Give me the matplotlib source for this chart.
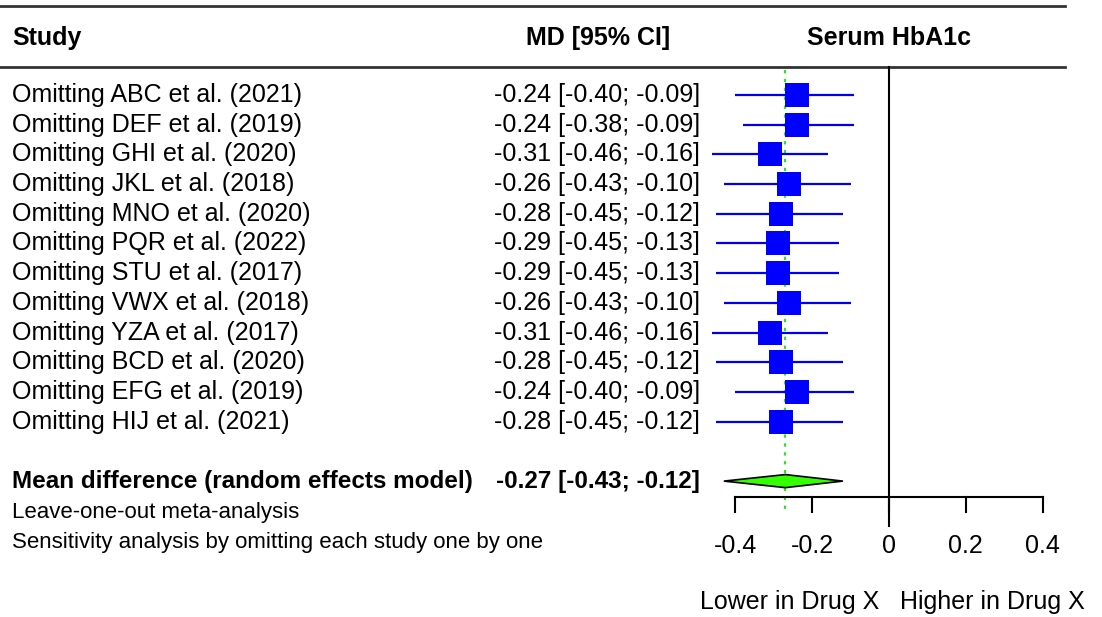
import matplotlib.pyplot as plt
import matplotlib.transforms as mtransforms
import numpy as np

plt.rcParams['font.family'] = ['Liberation Sans', 'DejaVu Sans']

# data
studies = ["ABC", "DEF", "GHI", "JKL", "MNO", "PQR", "STU", "VWX", "YZA", "BCD", "EFG", "HIJ"]
years = [2021, 2019, 2020, 2018, 2020, 2022, 2017, 2018, 2017, 2020, 2019, 2021]
md = [-0.24, -0.24, -0.31, -0.26, -0.28, -0.29, -0.29, -0.26, -0.31, -0.28, -0.24, -0.28]
lo = [-0.40, -0.38, -0.46, -0.43, -0.45, -0.45, -0.45, -0.43, -0.46, -0.45, -0.40, -0.45]
hi = [-0.09, -0.09, -0.16, -0.10, -0.12, -0.13, -0.13, -0.10, -0.16, -0.12, -0.09, -0.12]
pooled = [-0.27, -0.43, -0.12]
xticks = [-0.4, -0.2, 0, 0.2, 0.4]

W, H = 1102, 617
fig = plt.figure(figsize=(W / 100, H / 100), dpi=100)
ax = fig.add_axes([0, 0, 1, 1])
ax.axis('off')

# pixel layout -> data scale
x0, xs = 889, 384.0     # pixel of MD=0, pixels per unit
y0, ys = 95, 29.7       # pixel of first row, pixels per row
ax.set_xlim(-x0 / xs, (W - x0) / xs)
ax.set_ylim((H - y0) / ys, -y0 / ys)

def row(py):
    return (py - y0) / ys

fx = mtransforms.blended_transform_factory(fig.transFigure, ax.transData)
fs = 18

# rules
for py in (6, 67):
    ax.axhline(row(py), xmin=0, xmax=1065 / W, color='#333333', lw=2)

# headers
ax.text(12 / W, row(38), "Study", transform=fx, fontsize=fs, fontweight='bold', va='center')
ax.text(598 / W, row(38), "MD [95% CI]", transform=fx, fontsize=fs, fontweight='bold', va='center', ha='center')
ax.text(0, row(38), "Serum HbA1c", fontsize=fs, fontweight='bold', va='center', ha='center')

n = len(studies)
rows = np.arange(n)

# reference lines
ax.plot([0, 0], [row(67), row(526)], color='black', lw=1.5)
ax.plot([pooled[0], pooled[0]], [row(70), row(512)], color='#33dd33', lw=1.6, ls=(0, (1.5, 2.5)))

# study rows
for i in rows:
    ax.text(12 / W, i, f"Omitting {studies[i]} et al. ({years[i]})", transform=fx,
            fontsize=fs, va='center')
    ax.text(700 / W, i, f"{md[i]:.2f} [{lo[i]:.2f}; {hi[i]:.2f}]", transform=fx,
            fontsize=fs, va='center', ha='right')
ax.hlines(rows, lo, hi, color='#0000ee', lw=1.6)
ax.plot(md, rows, 's', color='#0000ff', markersize=17, markeredgewidth=0)

# pooled estimate
ps = n + 1
ax.text(12 / W, ps, "Mean difference (random effects model)", transform=fx,
        fontsize=17.5, fontweight='bold', va='center')
ax.text(700 / W, ps, f"{pooled[0]:.2f} [{pooled[1]:.2f}; {pooled[2]:.2f}]", transform=fx,
        fontsize=17.5, fontweight='bold', va='center', ha='right')
dh = 0.22
ax.fill([pooled[1], pooled[0], pooled[2], pooled[0]], [ps, ps - dh, ps, ps + dh],
        facecolor='#33ff00', edgecolor='black', lw=1.2, zorder=3)

# x axis
ya = row(497)
ax.plot([xticks[0], xticks[-1]], [ya, ya], color='black', lw=1.5)
for t in xticks:
    ax.plot([t, t], [ya, row(512)], color='black', lw=1.5)
    ax.text(t, row(546), f"{t:g}", fontsize=fs, ha='center', va='center')

ax.text(12 / W, row(513), "Leave-one-out meta-analysis", transform=fx, fontsize=16, va='center')
ax.text(12 / W, row(543), "Sensitivity analysis by omitting each study one by one", transform=fx,
        fontsize=16, va='center')
ax.text(790 / W, row(602), "Lower in Drug X", transform=fx, fontsize=fs, ha='center', va='center')
ax.text(992 / W, row(602), "Higher in Drug X", transform=fx, fontsize=fs, ha='center', va='center')

fig.savefig("out.png", dpi=100)
